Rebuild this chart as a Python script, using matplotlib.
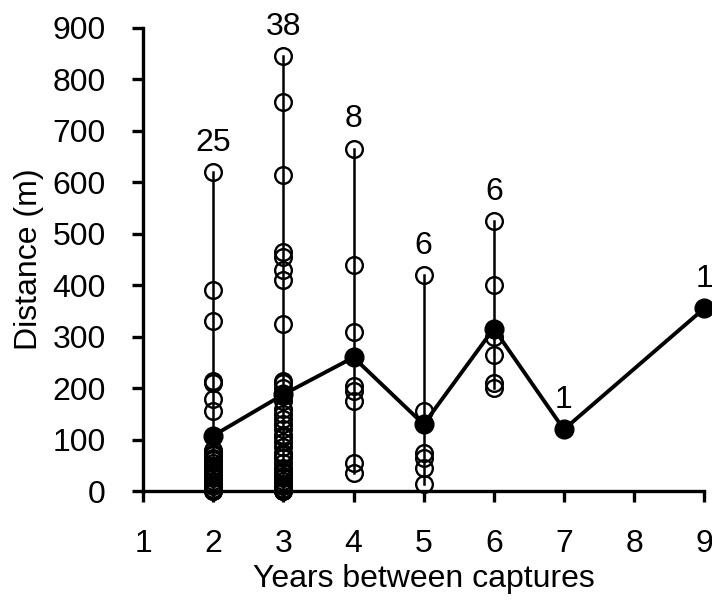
import matplotlib
matplotlib.use("Agg")
import matplotlib.pyplot as plt

plt.rcParams['font.family'] = ['Liberation Sans', 'DejaVu Sans']

# distancias individuales por años entre capturas
years = [2, 3, 4, 5, 6]
dist_y2 = [620, 390, 330, 215, 210, 180, 155, 80, 75, 70, 65, 60, 55, 50, 45,
           40, 35, 30, 25, 20, 15, 10, 5, 0, 0]
dist_y3 = [845, 755, 615, 465, 455, 430, 410, 325, 215, 210, 200, 185, 175,
           160, 150, 140, 130, 120, 110, 105, 95, 85, 75, 70, 65, 55, 45, 40,
           35, 30, 25, 20, 15, 10, 5, 5, 0, 0]
dist_y4 = [665, 440, 310, 205, 195, 175, 55, 35]
dist_y5 = [420, 155, 75, 65, 45, 15]
dist_y6 = [525, 400, 300, 265, 210, 200]

# medias (puntos negros) y tamaños de muestra
mean_years = [2, 3, 4, 5, 6, 7, 9]
mean_dist = [108, 188, 260, 130, 316, 120, 355]
n_labels = ['25', '38', '8', '6', '6', '1', '1']
label_tops = [620, 845, 665, 420, 525, 120, 355]

fig = plt.figure(figsize=(7.12, 6.05), dpi=100)
ax = fig.add_axes([0.201, 0.188, 0.788, 0.766])

groups = [dist_y2, dist_y3, dist_y4, dist_y5, dist_y6]
for yr, vals in zip(years, groups):
    ax.plot([yr, yr], [min(vals), max(vals)], color='black', lw=1.8, zorder=1)
    ax.plot([yr] * len(vals), vals, 'o', ms=12, mfc='none', mec='black',
            mew=1.7, zorder=2, clip_on=False)

ax.plot(mean_years, mean_dist, '-o', color='black', lw=2.8, ms=13.5,
        zorder=3, clip_on=False)

for yr, top, lab in zip(mean_years, label_tops, n_labels):
    ax.text(yr, top + 28, lab, ha='center', va='bottom', fontsize=23)

ax.set_xlim(1, 9)
ax.set_ylim(0, 900)
ax.set_xticks(range(1, 10))
ax.set_yticks(range(0, 901, 100))

for side in ['top', 'right']:
    ax.spines[side].set_visible(False)
for side in ['left', 'bottom']:
    ax.spines[side].set_linewidth(2.4)

ax.tick_params(axis='both', direction='out', length=8, width=2.4,
               labelsize=23)
ax.tick_params(axis='y', pad=19)
ax.tick_params(axis='x', pad=19)

ax.set_xlabel('Years between captures', fontsize=23, labelpad=4)
ax.set_ylabel('Distance (m)', fontsize=23, labelpad=6)

fig.savefig('out.png', dpi=100)
